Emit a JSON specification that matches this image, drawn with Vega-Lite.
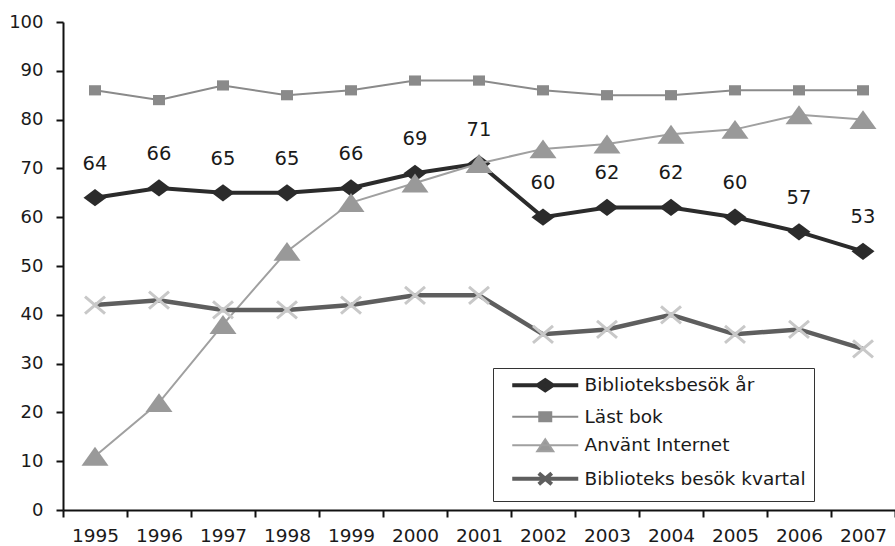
{
  "$schema": "https://vega.github.io/schema/vega-lite/v6.json",
  "width": 832,
  "height": 488,
  "autosize": {"type": "none"},
  "padding": {"left": 63, "top": 22, "right": 0, "bottom": 36},
  "background": "white",
  "config": {"view": {"stroke": null}, "font": "DejaVu Sans"},
  "data": {"values": [
    {"year": "1995", "series": "Biblioteksbesök år", "value": 64},
    {"year": "1996", "series": "Biblioteksbesök år", "value": 66},
    {"year": "1997", "series": "Biblioteksbesök år", "value": 65},
    {"year": "1998", "series": "Biblioteksbesök år", "value": 65},
    {"year": "1999", "series": "Biblioteksbesök år", "value": 66},
    {"year": "2000", "series": "Biblioteksbesök år", "value": 69},
    {"year": "2001", "series": "Biblioteksbesök år", "value": 71},
    {"year": "2002", "series": "Biblioteksbesök år", "value": 60},
    {"year": "2003", "series": "Biblioteksbesök år", "value": 62},
    {"year": "2004", "series": "Biblioteksbesök år", "value": 62},
    {"year": "2005", "series": "Biblioteksbesök år", "value": 60},
    {"year": "2006", "series": "Biblioteksbesök år", "value": 57},
    {"year": "2007", "series": "Biblioteksbesök år", "value": 53},
    {"year": "1995", "series": "Läst bok", "value": 86},
    {"year": "1996", "series": "Läst bok", "value": 84},
    {"year": "1997", "series": "Läst bok", "value": 87},
    {"year": "1998", "series": "Läst bok", "value": 85},
    {"year": "1999", "series": "Läst bok", "value": 86},
    {"year": "2000", "series": "Läst bok", "value": 88},
    {"year": "2001", "series": "Läst bok", "value": 88},
    {"year": "2002", "series": "Läst bok", "value": 86},
    {"year": "2003", "series": "Läst bok", "value": 85},
    {"year": "2004", "series": "Läst bok", "value": 85},
    {"year": "2005", "series": "Läst bok", "value": 86},
    {"year": "2006", "series": "Läst bok", "value": 86},
    {"year": "2007", "series": "Läst bok", "value": 86},
    {"year": "1995", "series": "Använt Internet", "value": 11},
    {"year": "1996", "series": "Använt Internet", "value": 22},
    {"year": "1997", "series": "Använt Internet", "value": 38},
    {"year": "1998", "series": "Använt Internet", "value": 53},
    {"year": "1999", "series": "Använt Internet", "value": 63},
    {"year": "2000", "series": "Använt Internet", "value": 67},
    {"year": "2001", "series": "Använt Internet", "value": 71},
    {"year": "2002", "series": "Använt Internet", "value": 74},
    {"year": "2003", "series": "Använt Internet", "value": 75},
    {"year": "2004", "series": "Använt Internet", "value": 77},
    {"year": "2005", "series": "Använt Internet", "value": 78},
    {"year": "2006", "series": "Använt Internet", "value": 81},
    {"year": "2007", "series": "Använt Internet", "value": 80},
    {"year": "1995", "series": "Biblioteks besök kvartal", "value": 42},
    {"year": "1996", "series": "Biblioteks besök kvartal", "value": 43},
    {"year": "1997", "series": "Biblioteks besök kvartal", "value": 41},
    {"year": "1998", "series": "Biblioteks besök kvartal", "value": 41},
    {"year": "1999", "series": "Biblioteks besök kvartal", "value": 42},
    {"year": "2000", "series": "Biblioteks besök kvartal", "value": 44},
    {"year": "2001", "series": "Biblioteks besök kvartal", "value": 44},
    {"year": "2002", "series": "Biblioteks besök kvartal", "value": 36},
    {"year": "2003", "series": "Biblioteks besök kvartal", "value": 37},
    {"year": "2004", "series": "Biblioteks besök kvartal", "value": 40},
    {"year": "2005", "series": "Biblioteks besök kvartal", "value": 36},
    {"year": "2006", "series": "Biblioteks besök kvartal", "value": 37},
    {"year": "2007", "series": "Biblioteks besök kvartal", "value": 33}
  ]},
  "encoding": {
    "x": {
      "field": "year", "type": "ordinal",
      "scale": {"type": "band", "paddingInner": 0, "paddingOuter": 0},
      "axis": {"title": null, "labelAngle": 0, "tickBand": "extent", "grid": false,
        "domainColor": "#111", "domainWidth": 2, "tickColor": "#111", "tickWidth": 2, "tickSize": 7,
        "labelFont": "DejaVu Sans", "labelFontSize": 18.5, "labelColor": "#1a1a1a", "labelPadding": 9}
    },
    "y": {
      "field": "value", "type": "quantitative",
      "scale": {"domain": [0, 100], "nice": false},
      "axis": {"title": null, "values": [0, 10, 20, 30, 40, 50, 60, 70, 80, 90, 100], "grid": false,
        "domainColor": "#111", "domainWidth": 2, "tickColor": "#111", "tickWidth": 2, "tickSize": 7,
        "labelFont": "DejaVu Sans", "labelFontSize": 18, "labelColor": "#1a1a1a", "labelPadding": 13}
    }
  },
  "layer": [
    {
      "transform": [{"filter": "datum.series === 'Läst bok'"}],
      "mark": {"type": "line", "strokeWidth": 2},
      "encoding": {
        "color": {
          "field": "series", "type": "nominal",
          "scale": {"domain": ["Biblioteksbesök år", "Läst bok", "Använt Internet", "Biblioteks besök kvartal"],
                    "range": ["#2b2b2b", "#8a8a8a", "#a0a0a0", "#5e5e5e"]},
          "legend": {
            "title": null, "orient": "none", "legendX": 430, "legendY": 346,
            "strokeColor": "#333", "fillColor": "white", "padding": 8,
            "symbolSize": 400, "symbolOffset": 35, "labelOffset": 30, "rowPadding": 8.5,
            "labelFont": "DejaVu Sans", "labelFontSize": 18.5, "labelColor": "#1a1a1a", "labelLimit": 400,
            "encode": {"symbols": {"update": {
              "shape": {"signal": "datum.value === 'Biblioteksbesök år' ? 'M-3.3,0H3.3M-0.75,0L0,-0.5L0.75,0L0,0.5Z' : datum.value === 'Läst bok' ? 'M-3.3,0H3.3M-0.6,-0.45H0.6V0.45H-0.6Z' : datum.value === 'Använt Internet' ? 'M-3.3,0H3.3M0,-0.6L0.8,0.6L-0.8,0.6Z' : 'M-3.3,0H3.3M-0.65,-0.55L0.65,0.55M-0.65,0.55L0.65,-0.55'"},
              "fill": {"signal": "datum.value === 'Biblioteksbesök år' ? '#2b2b2b' : datum.value === 'Läst bok' ? '#8a8a8a' : datum.value === 'Använt Internet' ? '#999999' : 'transparent'"},
              "stroke": {"signal": "datum.value === 'Biblioteksbesök år' ? '#2b2b2b' : datum.value === 'Läst bok' ? '#8a8a8a' : datum.value === 'Använt Internet' ? '#a0a0a0' : '#5e5e5e'"},
              "strokeWidth": {"signal": "datum.value === 'Biblioteksbesök år' || datum.value === 'Biblioteks besök kvartal' ? 4 : 2"},
              "opacity": {"value": 1}
            }}}
          }
        }
      }
    },
    {
      "transform": [{"filter": "datum.series === 'Läst bok'"}],
      "mark": {"type": "point", "shape": "M-1,-0.85H1V0.85H-1Z", "size": 144, "filled": true, "color": "#8a8a8a", "opacity": 1}
    },
    {
      "transform": [{"filter": "datum.series === 'Biblioteksbesök år'"}],
      "mark": {"type": "line", "strokeWidth": 4},
      "encoding": {"color": {"field": "series", "type": "nominal"}}
    },
    {
      "transform": [{"filter": "datum.series === 'Biblioteksbesök år'"}],
      "mark": {"type": "point", "shape": "M-1,0L0,-0.75L1,0L0,0.75Z", "size": 530, "filled": true, "color": "#2b2b2b", "opacity": 1}
    },
    {
      "transform": [{"filter": "datum.series === 'Använt Internet'"}],
      "mark": {"type": "line", "strokeWidth": 2},
      "encoding": {"color": {"field": "series", "type": "nominal"}}
    },
    {
      "transform": [{"filter": "datum.series === 'Använt Internet'"}],
      "mark": {"type": "point", "shape": "M0,-0.7L1,0.7L-1,0.7Z", "size": 729, "filled": true, "color": "#999999", "opacity": 1}
    },
    {
      "transform": [{"filter": "datum.series === 'Biblioteks besök kvartal'"}],
      "mark": {"type": "line", "strokeWidth": 4.5},
      "encoding": {"color": {"field": "series", "type": "nominal"}}
    },
    {
      "transform": [{"filter": "datum.series === 'Biblioteks besök kvartal'"}],
      "mark": {"type": "point", "shape": "M-1,-0.85L1,0.85M-1,0.85L1,-0.85", "size": 400, "filled": false, "color": "#c8c8c8", "strokeWidth": 3, "opacity": 1}
    },
    {
      "transform": [{"filter": "datum.series === 'Biblioteksbesök år'"}],
      "mark": {"type": "text", "dy": -34, "baseline": "middle", "align": "center", "fontSize": 19.5, "font": "DejaVu Sans", "color": "#1a1a1a"},
      "encoding": {"text": {"field": "value", "type": "quantitative"}}
    }
  ]
}
